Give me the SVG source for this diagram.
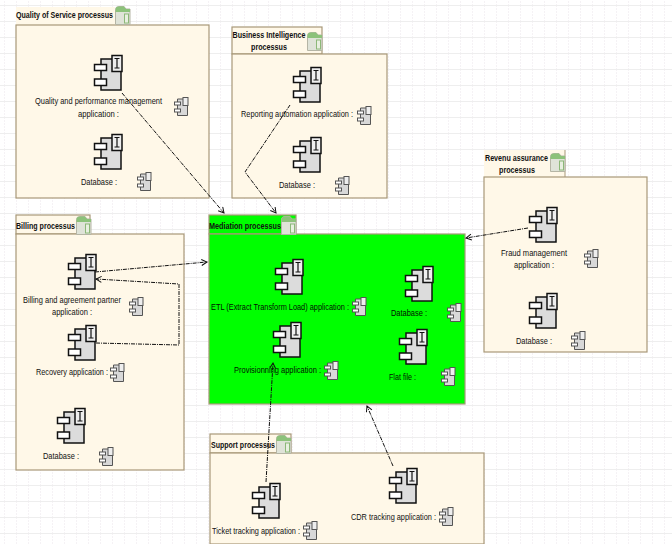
<svg xmlns="http://www.w3.org/2000/svg" width="672" height="544" viewBox="0 0 672 544">
<style>
.box{fill:#fff8e8;stroke:#a89878;stroke-width:1.2}
.bare{fill:#fff8e8;stroke:none}
.med{fill:#00ff00;stroke:#a89878;stroke-width:1.2}
text{font-family:"Liberation Sans",Arial,sans-serif;font-size:9.5px;fill:#111}
.t{font-weight:bold;fill:#111}
.g{fill:#010}
.c{fill:none;stroke:#111;stroke-width:1;stroke-dasharray:4 1 1 1;marker-end:url(#arr)}
</style>
<defs>
<pattern id="grid" width="12" height="16" patternUnits="userSpaceOnUse" x="4" y="5">
<path d="M0 0V16" fill="none" stroke="#ebe6eb" stroke-width="1" stroke-dasharray="2 1"/>
<path d="M0 0.500H12" fill="none" stroke="#eeeeee" stroke-width="1"/>
</pattern>
<marker id="arr" markerWidth="8" markerHeight="8" refX="6" refY="3.5" orient="auto" markerUnits="userSpaceOnUse">
<path d="M0.5 0.5L6 3.5L0.5 6.5" fill="none" stroke="#111" stroke-width="1"/>
</marker>
<g id="big">
<path d="M7 4H27V35H7Z" fill="#dcdcdc" stroke="#111" stroke-width="1.5"/>
<rect x="0.5" y="9.5" width="12" height="6" fill="#fff" stroke="#111" stroke-width="1.5"/>
<rect x="0.5" y="24" width="12" height="6.5" fill="#fff" stroke="#111" stroke-width="1.5"/>
<rect x="18" y="0.500" width="10" height="16" fill="#eee" stroke="#111" stroke-width="1.5"/>
<path d="M20.500 3.500H25.500M23 3.500V13M20.500 13H25.500" fill="none" stroke="#111" stroke-width="1.2"/>
</g>
<g id="small">
<path d="M3.500 2H13.500V18.500H3.500Z" fill="#d8d8d8" stroke="#555" stroke-width="1"/>
<rect x="0.500" y="5" width="6" height="3" fill="#fff" stroke="#555"/>
<rect x="0.500" y="12" width="6" height="3" fill="#fff" stroke="#555"/>
<rect x="9" y="0.500" width="5" height="8" fill="#eee" stroke="#555"/>
</g>
<g id="pkg">
<path d="M0.500 3.500Q0.500 0.500 4 0.500H9L11 3H15V18.500H0.500Z" fill="#dfe3d8" stroke="#b5b5a5"/>
<path d="M0.500 3.500Q0.500 0.500 4 0.500H9L11 3H15V6H0.500Z" fill="#8cc27a"/>
<rect x="9.500" y="8" width="4" height="9" fill="#e8efe0" stroke="#8cb878"/>
</g>
</defs>
<rect width="672" height="544" fill="#fff"/>
<rect width="672" height="544" fill="url(#grid)"/>

<g id="qos">
<rect class="bare" x="16" y="7" width="99" height="18"/>
<rect class="box" x="16" y="25" width="193" height="173"/>
<text class="t" x="16" y="18" textLength="97" lengthAdjust="spacingAndGlyphs">Quality of Service processus</text>
<use href="#pkg" x="115" y="6"/>
<use href="#big" x="94" y="55"/>
<text x="35" y="104" textLength="127" lengthAdjust="spacingAndGlyphs">Quality and performance management</text>
<text x="78" y="117" textLength="41" lengthAdjust="spacingAndGlyphs">application :</text>
<use href="#small" x="174" y="97"/>
<use href="#big" x="94" y="134"/>
<text x="81" y="185" textLength="36" lengthAdjust="spacingAndGlyphs">Database :</text>
<use href="#small" x="137" y="172"/>
</g>

<g id="bi">
<rect class="box" x="232" y="27" width="90" height="27"/>
<rect class="box" x="232" y="54" width="155" height="144"/>
<text class="t" x="232.500" y="38" textLength="73" lengthAdjust="spacingAndGlyphs">Business Intelligence</text>
<text class="t" x="251" y="50" textLength="36" lengthAdjust="spacingAndGlyphs">processus</text>
<use href="#pkg" x="307" y="32"/>
<use href="#big" x="293" y="67"/>
<text x="241" y="117" textLength="112" lengthAdjust="spacingAndGlyphs">Reporting automation application :</text>
<use href="#small" x="357" y="106"/>
<use href="#big" x="293" y="137"/>
<text x="279" y="188" textLength="36" lengthAdjust="spacingAndGlyphs">Database :</text>
<use href="#small" x="335" y="176"/>
</g>

<g id="billing">
<rect class="box" x="16" y="215" width="74" height="19"/>
<rect class="box" x="16" y="234" width="168" height="236"/>
<text class="t" x="16" y="229" textLength="59" lengthAdjust="spacingAndGlyphs">Billing processus</text>
<use href="#pkg" x="76" y="216"/>
<use href="#big" x="68" y="254"/>
<text x="23" y="303" textLength="98" lengthAdjust="spacingAndGlyphs">Billing and agreement partner</text>
<text x="52" y="315" textLength="40" lengthAdjust="spacingAndGlyphs">application :</text>
<use href="#small" x="129" y="297"/>
<use href="#big" x="68" y="325"/>
<text x="36" y="375" textLength="72" lengthAdjust="spacingAndGlyphs">Recovery application :</text>
<use href="#small" x="110" y="363"/>
<use href="#big" x="57" y="408"/>
<text x="43" y="459" textLength="36" lengthAdjust="spacingAndGlyphs">Database :</text>
<use href="#small" x="99" y="447"/>
</g>

<g id="mediation">
<rect class="med" x="209" y="215" width="87" height="19"/>
<rect class="med" x="209" y="234" width="256" height="170"/>
<text class="t" x="209" y="229" textLength="72" lengthAdjust="spacingAndGlyphs">Mediation processus</text>
<use href="#pkg" x="281" y="216"/>
<use href="#big" x="275" y="259"/>
<text class="g" x="211" y="310" textLength="138" lengthAdjust="spacingAndGlyphs">ETL (Extract Transform Load) application :</text>
<use href="#small" x="352" y="297"/>
<use href="#big" x="405" y="266"/>
<text class="g" x="391" y="316" textLength="36" lengthAdjust="spacingAndGlyphs">Database :</text>
<use href="#small" x="447" y="303"/>
<use href="#big" x="273" y="322"/>
<text class="g" x="234" y="373" textLength="87" lengthAdjust="spacingAndGlyphs">Provisionning application :</text>
<use href="#small" x="324" y="361"/>
<use href="#big" x="399" y="329"/>
<text class="g" x="389" y="380" textLength="27" lengthAdjust="spacingAndGlyphs">Flat file :</text>
<use href="#small" x="441" y="367"/>
</g>

<g id="revenue">
<rect class="bare" x="484" y="150" width="81" height="27"/>
<path d="M565 150V177" stroke="#a89878" fill="none"/>
<rect class="box" x="484" y="177" width="163" height="175"/>
<text class="t" x="485" y="161" textLength="63" lengthAdjust="spacingAndGlyphs">Revenu assurance</text>
<text class="t" x="499" y="173" textLength="36" lengthAdjust="spacingAndGlyphs">processus</text>
<use href="#pkg" x="550" y="153"/>
<use href="#big" x="529" y="207"/>
<text x="501" y="256" textLength="66" lengthAdjust="spacingAndGlyphs">Fraud management</text>
<text x="514" y="268" textLength="40" lengthAdjust="spacingAndGlyphs">application :</text>
<use href="#small" x="584" y="249"/>
<use href="#big" x="529" y="293"/>
<text x="516" y="344" textLength="36" lengthAdjust="spacingAndGlyphs">Database :</text>
<use href="#small" x="571" y="331"/>
</g>

<g id="support">
<rect class="box" x="210" y="434" width="81" height="19"/>
<rect class="box" x="210" y="453" width="274" height="91"/>
<text class="t" x="211" y="448" textLength="64" lengthAdjust="spacingAndGlyphs">Support processus</text>
<use href="#pkg" x="276" y="435"/>
<use href="#big" x="252" y="483"/>
<text x="212" y="534" textLength="88" lengthAdjust="spacingAndGlyphs">Ticket tracking application :</text>
<use href="#small" x="303" y="521"/>
<use href="#big" x="389" y="468"/>
<text x="351" y="520" textLength="85" lengthAdjust="spacingAndGlyphs">CDR tracking application :</text>
<use href="#small" x="439" y="507"/>
</g>

<g id="connectors">
<path class="c" d="M122 93L224 213"/>
<path class="c" d="M290 105L245 172L276 213"/>
<path class="c" d="M95 272L207 262"/>
<path class="c" d="M96 343L179 345V284L96 279"/>
<path class="c" d="M528 228L466 238"/>
<path class="c" d="M266 482L273 363"/>
<path class="c" d="M393 466L367 406"/>
</g>
</svg>
